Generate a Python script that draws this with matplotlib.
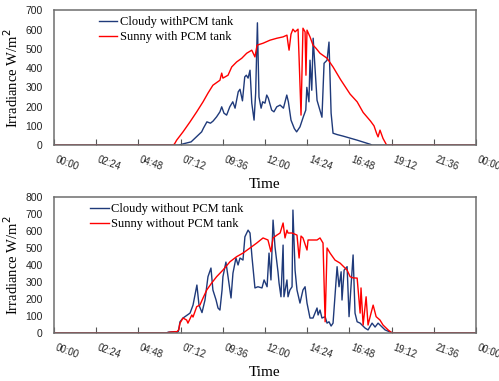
import matplotlib.pyplot as plt
import numpy as np

# time in hours of the day, irradiance in W/m2
# top panel: with PCM tank
cloudy_pcm_t = [0, 7.1, 7.4, 7.8, 8.1, 8.4, 8.5, 8.7, 8.9, 9.05, 9.25, 9.44, 9.54, 9.67, 9.82,
                10.0, 10.17, 10.3, 10.48, 10.58, 10.72, 10.85, 10.94, 11.04, 11.15, 11.25, 11.38,
                11.47, 11.57, 11.66, 11.78, 11.87, 12.0, 12.1, 12.19, 12.38, 12.51, 12.67, 12.86,
                13.05, 13.24, 13.33, 13.48, 13.67, 13.8, 13.99, 14.18, 14.32, 14.38, 14.5, 14.56,
                14.66, 14.74, 14.96, 15.24, 15.36, 15.53, 15.64, 15.76, 15.87, 16.1, 16.44, 17.24,
                17.97, 18.1, 24]
cloudy_pcm_v = [0, 0, 8, 17, 43, 69, 88, 121, 114, 125, 147, 173, 199, 166, 156,
                199, 225, 192, 277, 290, 230, 354, 363, 348, 389, 218, 130,
                270, 635, 250, 192, 225, 218, 260, 244, 182, 173, 199, 208,
                192, 260, 225, 130, 86, 69, 95, 147, 182, 300, 225, 441,
                285, 555, 233, 145, 425, 441, 535, 166, 62, 55, 47, 26,
                5, 0, 0]

sunny_pcm_t = [0, 6.8, 6.88, 6.98, 7.34, 7.74, 8.12, 8.48, 8.76, 9.04, 9.44, 9.54, 9.61, 9.9,
               10.11, 10.39, 10.68, 10.96, 11.25, 11.43, 11.55, 11.89, 12.29, 12.68, 13.03,
               13.25, 13.31, 13.37, 13.48, 13.59, 13.71, 13.88, 13.94, 14.05, 14.16, 14.28,
               14.33, 14.39, 14.56, 14.73, 14.9, 15.13, 15.53, 15.87, 16.3, 16.84, 17.24,
               17.58, 18.0, 18.2, 18.35, 18.43, 18.54, 18.71, 18.92, 24]
sunny_pcm_v = [0, 0, 10, 26, 69, 121, 173, 225, 270, 311, 337, 374, 348, 363,
               406, 432, 451, 477, 493, 458, 519, 529, 545, 555, 562,
               571, 529, 493, 576, 602, 588, 602, 451, 156, 607, 588,
               363, 597, 562, 519, 503, 477, 451, 406, 340, 265, 225,
               170, 125, 100, 60, 43, 78, 35, 0, 0]

# bottom panel: without PCM tank
cloudy_t = [0, 6.4, 6.5, 6.9, 7.0, 7.08, 7.17, 7.34, 7.74, 7.91, 8.13, 8.25, 8.42, 8.59, 8.76,
            8.93, 9.04, 9.22, 9.33, 9.44, 9.56, 9.61, 9.78, 9.9, 10.07, 10.18, 10.35, 10.47,
            10.58, 10.75, 10.86, 11.04, 11.15, 11.26, 11.43, 11.6, 11.83, 11.95, 12.12, 12.23,
            12.34, 12.46, 12.57, 12.74, 12.8, 12.91, 13.03, 13.08, 13.25, 13.31, 13.42, 13.54,
            13.59, 13.71, 13.82, 13.99, 14.16, 14.28, 14.39, 14.56, 14.73, 14.96, 15.02, 15.13,
            15.24, 15.42, 15.53, 15.64, 15.76, 15.87, 16.1, 16.21, 16.33, 16.38, 16.5, 16.67,
            16.78, 16.89, 17.01, 17.12, 17.24, 17.41, 17.69, 17.86, 18.09, 18.26, 18.43, 18.66,
            18.83, 19.11, 19.28, 24]
cloudy_v = [0, 0, 5, 8, 3, 10, 66, 88, 117, 164, 282, 164, 120, 194, 331,
            382, 253, 194, 147, 135, 253, 331, 417, 331, 206, 352, 441, 400,
            441, 429, 566, 605, 588, 449, 265, 272, 265, 312, 272, 470,
            312, 664, 507, 360, 294, 213, 517, 213, 312, 213, 253, 272,
            723, 370, 253, 176, 253, 272, 176, 88, 88, 147, 106, 135,
            88, 96, 58, 66, 41, 58, 390, 272, 360, 194, 370, 390,
            96, 272, 459, 117, 66, 58, 29, 18, 58, 35, 58, 35,
            18, 6, 0, 0]

sunny_t = [0, 6.4, 6.6, 7.0, 7.1, 7.17, 7.34, 7.55, 7.62, 7.84, 7.91, 8.12, 8.3, 8.48, 8.69,
           8.97, 9.25, 9.61, 10.01, 10.39, 10.75, 11.15, 11.53, 11.89, 12.17, 12.34, 12.46,
           12.68, 12.86, 13.03, 13.14, 13.25, 13.31, 13.54, 13.82, 13.94, 14.05, 14.16, 14.39,
           14.45, 14.68, 14.96, 15.13, 15.3, 15.42, 15.53, 15.7, 15.98, 16.27, 16.67, 16.84,
           17.01, 17.24, 17.41, 17.46, 17.58, 17.75, 17.86, 18.03, 18.15, 18.32, 18.54, 18.71,
           19.0, 19.23, 24]
sunny_v = [0, 0, 5, 8, 20, 58, 88, 76, 58, 106, 94, 155, 164, 206, 253,
           294, 331, 370, 419, 449, 470, 500, 529, 559, 547, 478, 559,
           576, 588, 647, 559, 605, 588, 588, 576, 441, 570, 559, 488,
           547, 547, 547, 559, 529, 66, 500, 470, 429, 411, 370, 331,
           324, 323, 117, 265, 47, 213, 47, 117, 164, 96, 76, 47,
           18, 0, 0]

navy = '#1f3a7a'
red = '#ff0000'
serif = 'Liberation Serif'
sans = 'Liberation Sans'


def fmt_time(h):
    m = int(round(h * 60)) % 1440
    return f"{m // 60:02d}:{m % 60:02d}"


fig = plt.figure(figsize=(4.99, 3.81), dpi=100)
ax1 = fig.add_axes([0.108, 0.619, 0.846, 0.354])
ax2 = fig.add_axes([0.108, 0.126, 0.846, 0.357])

panels = [
    (ax1, cloudy_pcm_t, cloudy_pcm_v, sunny_pcm_t, sunny_pcm_v,
     'Cloudy withPCM tank', 'Sunny with PCM tank', 700, (0.085, 1.02)),
    (ax2, cloudy_t, cloudy_v, sunny_t, sunny_v,
     'Cloudy without PCM tank', 'Sunny without PCM tank', 800, (0.065, 1.02)),
]

ticks = np.arange(0, 24.01, 2.4)
for ax, ct, cv, st, sv, lc, ls, ymax, lpos in panels:
    ax.plot(ct, cv, color=navy, lw=1.0, label=lc)
    ax.plot(st, sv, color=red, lw=1.0, label=ls)
    ax.set_xlim(0, 24)
    ax.set_ylim(0, ymax)
    ax.set_yticks(np.arange(0, ymax + 1, 100))
    ax.set_xticks(ticks)
    ax.set_xticklabels([fmt_time(t) for t in ticks], rotation=-20, ha='left',
                       family=sans, fontsize=7, color='#222222')
    for lab in ax.get_yticklabels():
        lab.set_family(sans)
        lab.set_fontsize(7.5)
        lab.set_color('#222222')
    ax.tick_params(axis='x', direction='in', length=4, width=0.8, color='#555555', pad=7)
    ax.tick_params(axis='y', length=0, pad=8)
    for sp in ax.spines.values():
        sp.set_color('#6e6e6e')
        sp.set_linewidth(1.1)
    ax.set_xlabel('Time', family=serif, fontsize=11, labelpad=4)
    ax.set_ylabel('Irradiance W/m$^2$', family=serif, fontsize=10.5)
    ax.yaxis.set_label_coords(-0.078, 0.5)
    ax.legend(loc='upper left', bbox_to_anchor=lpos, frameon=False,
              prop={'family': serif, 'size': 9}, handlelength=1.5,
              handletextpad=0.2, labelspacing=0.25, borderaxespad=0.3)

fig.savefig('out.png', dpi=100)
